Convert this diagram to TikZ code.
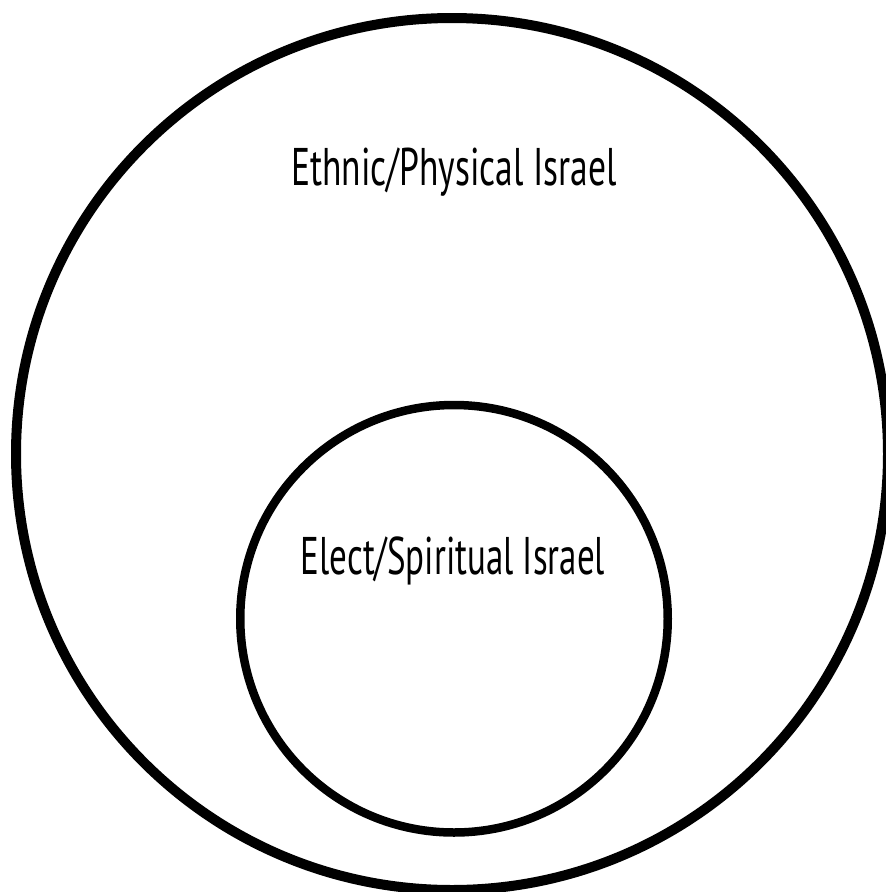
\documentclass[tikz,border=0pt]{standalone}
\usepackage{fontspec}
\setmainfont{PT Sans}
\begin{document}
\begin{tikzpicture}[x=1pt,y=-1pt,
  ring/.style={draw=black,line width=#1},
  lbl/.style={anchor=base,inner sep=0pt,font=\fontsize{53}{60}\selectfont}]
\useasboundingbox (0,0) rectangle (886,892);
\fill[white] (0,0) rectangle (886,892);
\node[ring=10pt,circle,minimum size=872pt,inner sep=0pt] (outer) at (452,454) {};
\node[ring=8.5pt,circle,minimum size=427.5pt,inner sep=0pt] (inner) at (454,618.75) {};
\node[lbl] (t1) at (454,185) {\scalebox{0.67}[1]{Ethnic/Physical Israel}};
\node[lbl] (t2) at (453,574) {\scalebox{0.66}[1]{Elect/Spiritual Israel}};
\end{tikzpicture}
\end{document}
